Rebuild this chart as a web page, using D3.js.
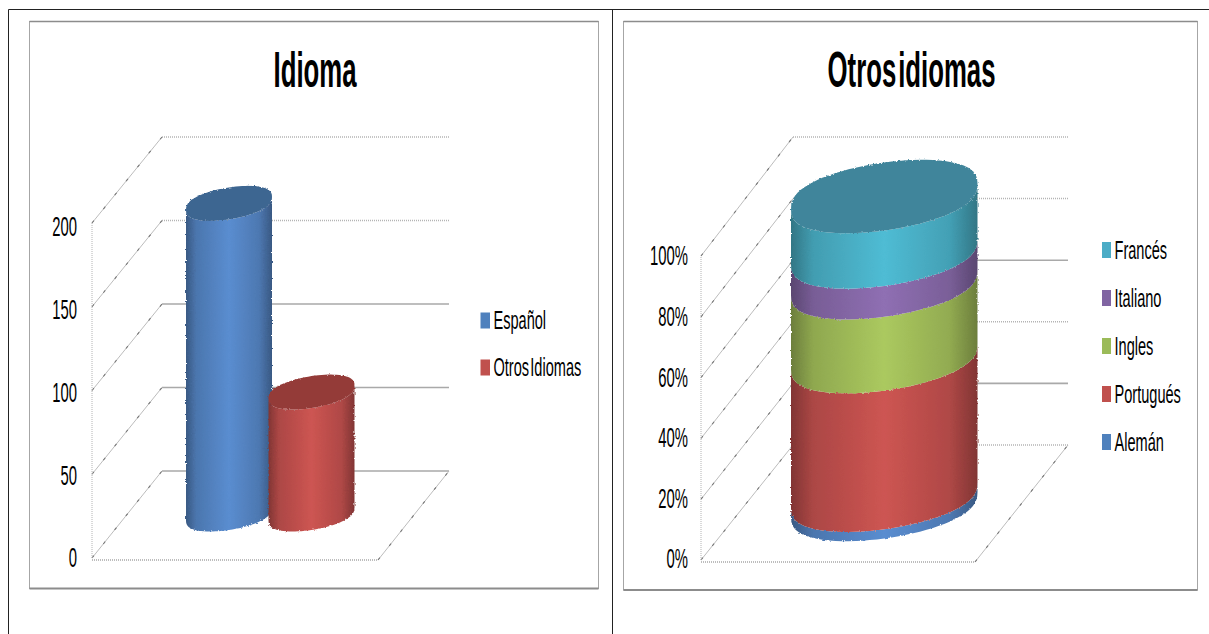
<!DOCTYPE html>
<html>
<head>
<meta charset="utf-8">
<script src="https://cdn.jsdelivr.net/npm/d3@7/dist/d3.min.js"></script>
<style>
html, body { margin: 0; padding: 0; background: #fff; }
svg { display: block; }
text { font-family: "Liberation Sans Narrow", "Liberation Sans", sans-serif; fill: #000; }
</style>
</head>
<body>
<div id="chart"></div>
<script>
// left chart data
var idiomaCategories = ["Español", "Otros Idiomas"];
var idiomaValues = [186, 73];
var idiomaTicks = [0, 50, 100, 150, 200];

// right chart data, bottom to top of the stack
var otrosCategories = ["Alemán", "Portugués", "Ingles", "Italiano", "Francés"];
var otrosValues = [3, 45, 24, 10, 18];
var otrosTicks = [0, 20, 40, 60, 80, 100];

var width = 1209;
var height = 634;

var svg = d3.select("#chart").append("svg")
  .attr("width", width)
  .attr("height", height);
var defs = svg.append("defs");

// rough edge like the resampled original
var rough = defs.append("filter").attr("id", "rough")
  .attr("x", "-5%").attr("y", "-5%").attr("width", "110%").attr("height", "110%");
rough.append("feTurbulence").attr("type", "fractalNoise").attr("baseFrequency", 0.6).attr("numOctaves", 1).attr("seed", 3).attr("result", "n");
rough.append("feDisplacementMap").attr("in", "SourceGraphic").attr("in2", "n").attr("scale", 3)
  .attr("xChannelSelector", "R").attr("yChannelSelector", "G");

// table borders of the page
svg.append("path")
  .attr("d", "M8.5,634V9.5H1209M612.5,9.5V634")
  .attr("fill", "none")
  .attr("stroke", "#222")
  .attr("stroke-width", 1);

// horizontal shading of a cylinder side
var gradientCount = 0;
function sideGradient(color) {
  var id = "side" + (gradientCount++);
  var g = defs.append("linearGradient").attr("id", id);
  [[0, 1.3], [0.12, 0.5], [0.5, 0], [0.85, 0.45], [1, 1.3]].forEach(function (s) {
    g.append("stop").attr("offset", s[0]).attr("stop-color", d3.color(color).darker(s[1]));
  });
  return "url(#" + id + ")";
}

// point on a sheared, slightly squared ellipse
function rimPoint(cx, cy, a, b, k, t) {
  var s = Math.sin(t), c = Math.cos(t);
  var sy = (s < 0 ? -1 : 1) * Math.pow(Math.abs(s), 0.8);
  return [cx + a * c, cy + b * sy + k * a * c];
}

// half of the rim, going left to right along the front
function frontArc(cx, cy, a, b, k, reverse) {
  var pts = d3.range(0, 41).map(function (i) {
    return rimPoint(cx, cy, a, b, k, Math.PI - Math.PI * i / 40);
  });
  return reverse ? pts.reverse() : pts;
}

function ellipsePath(cx, cy, a, b, k) {
  var pts = d3.range(0, 80).map(function (i) {
    return rimPoint(cx, cy, a, b, k, 2 * Math.PI * i / 80);
  });
  return d3.line().curve(d3.curveLinearClosed)(pts);
}

function band(g, cx, y0, y1, a, b, k, color) {
  var pts = frontArc(cx, y1, a, b, k).concat(frontArc(cx, y0, a, b, k, true));
  g.append("path")
    .attr("d", d3.line().curve(d3.curveLinearClosed)(pts))
    .attr("fill", sideGradient(color));
}

// thin grey line with darker specks along it
function speckled(g, x1, y1, x2, y2) {
  g.append("line")
    .attr("x1", x1).attr("y1", y1).attr("x2", x2).attr("y2", y2)
    .attr("stroke", "#b4b4b4").attr("stroke-width", 0.9);
  g.append("line")
    .attr("x1", x1).attr("y1", y1).attr("x2", x2).attr("y2", y2)
    .attr("stroke", "#777").attr("stroke-width", 1.1)
    .attr("stroke-dasharray", "3 15");
}

function drawChart(c) {
  var g = svg.append("g");

  // chart frame
  g.append("rect")
    .attr("x", c.frame[0]).attr("y", c.frame[1])
    .attr("width", c.frame[2] - c.frame[0]).attr("height", c.frame[3] - c.frame[1])
    .attr("fill", "#fff").attr("stroke", "#a6a6a6").attr("stroke-width", 1);
  g.append("line")
    .attr("x1", c.frame[0]).attr("x2", c.frame[2]).attr("y1", c.frame[3]).attr("y2", c.frame[3])
    .attr("stroke", "#8c8c8c").attr("stroke-width", 2);
  g.append("line")
    .attr("x1", c.frame[0]).attr("x2", c.frame[2]).attr("y1", c.frame[1]).attr("y2", c.frame[1])
    .attr("stroke", "#8c8c8c").attr("stroke-width", 1.5);

  // title
  g.append("text")
    .attr("transform", "translate(" + c.titleX + ",87) scale(0.515,1)")
    .attr("text-anchor", "middle")
    .style("font-size", "50px")
    .style("font-weight", "bold")
    .style("word-spacing", "-10px")
    .text(c.title);

  // back wall gridlines and the diagonals on the left wall
  c.ticks.forEach(function (v, i) {
    var solid = c.solid[i];
    g.append("line")
      .attr("x1", c.backL).attr("x2", c.backR)
      .attr("y1", c.yBack(v)).attr("y2", c.yBack(v))
      .attr("stroke", solid ? "#a9a9a9" : "#b4b4b4")
      .attr("stroke-width", solid ? 1.6 : 1.5)
      .attr("stroke-dasharray", solid ? null : "1 1");
    speckled(g, c.frontL, c.yFront(v), c.backL, c.yBack(v));
  });

  // front left edge, front floor edge, right floor edge
  var y0 = c.yFront(0);
  g.append("line")
    .attr("x1", c.frontL).attr("x2", c.frontL)
    .attr("y1", y0).attr("y2", c.yFront(c.ticks[c.ticks.length - 1]))
    .attr("stroke", "#b4b4b4").attr("stroke-dasharray", "1 1");
  g.append("line")
    .attr("x1", c.frontL).attr("x2", c.frontR)
    .attr("y1", c.floorY).attr("y2", c.floorY)
    .attr("stroke", "#a8a8a8").attr("stroke-width", 1.6).attr("stroke-dasharray", "1 1");
  speckled(g, c.frontR, c.floorY, c.backR, c.yBack(0));

  // value labels through a d3 axis
  var axis = g.append("g")
    .attr("transform", "translate(" + c.labelX + ",0)")
    .call(d3.axisLeft(c.yLabel).tickValues(c.ticks).tickSize(0).tickPadding(0).tickFormat(c.format));
  axis.select(".domain").remove();
  axis.selectAll("text")
    .attr("x", 0)
    .attr("transform", "scale(0.53,1)")
    .style("font-size", "28px");

  // legend
  var leg = g.append("g");
  c.legend.forEach(function (d) {
    leg.append("rect")
      .attr("x", c.legendX).attr("y", c.yLegend(d.name) - d.h / 2)
      .attr("width", c.swatchW).attr("height", d.h)
      .attr("fill", d.color);
    leg.append("text")
      .attr("transform", "translate(" + (c.legendX + c.swatchW + 3.5) + "," + (c.yLegend(d.name) + 8.5) + ") scale(0.56,1)")
      .style("font-size", "26px")
      .style("word-spacing", "-5px")
      .text(d.name);
  });

  return g;
}

var blue = "#5a8dd0", red = "#cd5552", green = "#abc95f", purple = "#8f6fb3", teal = "#4fbcd4";

// ---------- left chart ----------
var leftY = function (range) { return d3.scaleLinear().domain([0, 200]).range(range); };
var left = drawChart({
  frame: [29.5, 21.5, 598.5, 588.5],
  title: "Idioma", titleX: 315,
  ticks: idiomaTicks, format: d3.format("d"),
  solid: [true, true, true, false, false],
  frontL: 92, frontR: 378, backL: 162, backR: 449, floorY: 560,
  yFront: leftY([558, 223]), yBack: leftY([471, 137]), yLabel: leftY([558, 227]),
  labelX: 77,
  legendX: 480.5, swatchW: 9.5,
  yLegend: d3.scalePoint().domain(idiomaCategories).range([320.5, 367.5]),
  legend: [
    { name: "Español", color: "#4f81bd", h: 16 },
    { name: "Otros Idiomas", color: "#c0504d", h: 16 }
  ]
});

var xLeft = d3.scaleBand().domain(idiomaCategories).range([187.75, 352.75]);
var hLeft = d3.scaleLinear().domain([0, 200]).range([514, 180]);
[blue, red].forEach(function (color, i) {
  var name = idiomaCategories[i];
  var a = xLeft.bandwidth() / 2 + 1.75;
  var cx = xLeft(name) + xLeft.bandwidth() / 2;
  var top = hLeft(idiomaValues[i]);
  var g = left.append("g").attr("filter", "url(#rough)");
  band(g, cx, top, hLeft(0), a, 16, -0.15, color);
  g.append("path")
    .attr("d", ellipsePath(cx, top, a, 16, -0.15))
    .attr("fill", i === 0 ? "#3e6691" : "#943b38");
});

// ---------- right chart ----------
var rightY = function (range) { return d3.scaleLinear().domain([0, 100]).range(range); };
var otrosColors = [blue, red, green, purple, teal];
var legendColors = ["#4f81bd", "#c0504d", "#9bbb59", "#8064a2", "#4bacc6"];
var right = drawChart({
  frame: [623.5, 21.5, 1197.5, 590],
  title: "Otros idiomas", titleX: 911.5,
  ticks: otrosTicks, format: function (d) { return d + "%"; },
  solid: [false, true, false, true, false, false],
  frontL: 701, frontR: 975, backL: 793, backR: 1068, floorY: 562,
  yFront: rightY([560, 256]), yBack: rightY([445, 137]), yLabel: rightY([559, 256]),
  labelX: 688,
  legendX: 1102, swatchW: 9,
  yLegend: d3.scalePoint().domain(otrosCategories).range([442, 250]),
  legend: otrosCategories.map(function (n, i) {
    return { name: n, color: legendColors[i], h: 16 };
  }).reverse()
});

// stacked cylinder from the percentages
var row = {};
otrosCategories.forEach(function (n, i) { row[n] = otrosValues[i]; });
var stacked = d3.stack().keys(otrosCategories)([row]);
var xRight = d3.scaleBand().domain(["Otros idiomas"]).range([791, 977.5]);
var hRight = d3.scaleLinear().domain([0, 100]).range([504.5, 196.5]);
var ra = xRight.bandwidth() / 2, rcx = xRight("Otros idiomas") + ra;
var rg = right.append("g").attr("filter", "url(#rough)");
stacked.forEach(function (s, i) {
  band(rg, rcx, hRight(s[0][1]), hRight(s[0][0]), ra, 34, -0.134, otrosColors[i]);
});
rg.append("path")
  .attr("d", ellipsePath(rcx, hRight(100), ra, 34, -0.134))
  .attr("fill", "#41859b");
</script>
</body>
</html>
